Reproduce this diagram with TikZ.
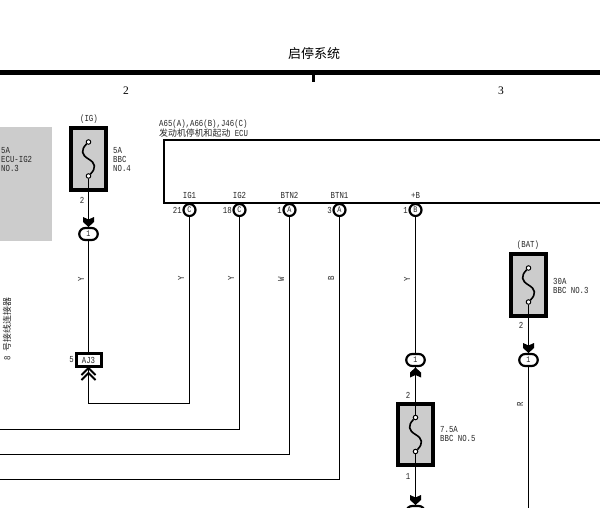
\documentclass[tikz,border=0pt]{standalone}
\usepackage{fontspec}
\setmainfont{Liberation Serif}
\setmonofont[FakeStretch=0.8]{Liberation Mono}
\newfontfamily\cjk{Noto Sans CJK SC}
\begin{document}
\begin{tikzpicture}[
        x=1pt, y=-1pt,
        small/.style={font=\fontsize{9.2}{9}\selectfont\ttfamily, text=black!85, inner sep=0pt, align=left},
        fusebox/.style={draw, line width=4pt, fill=black!20, minimum width=35pt, minimum height=61.5pt, inner sep=0pt},% fuse body
        fusepin/.style={draw, circle, fill=white, line width=1pt, minimum size=4.5pt, inner sep=0pt},
        pinmark/.style={draw, circle, line width=2.2pt, fill=white, minimum size=12pt, inner sep=0pt, font=\fontsize{8.5}{8}\selectfont\ttfamily, text=black!85},% ECU pin
        plug/.style={draw, rectangle, rounded corners=6pt, line width=2.2pt, fill=white, minimum width=18.5pt, minimum height=12pt, inner sep=0pt, font=\fontsize{8.5}{8}\selectfont\ttfamily, text=black!85},% inline connector
        joint/.style={draw, rectangle, line width=3pt, fill=white, minimum width=25pt, minimum height=13pt, inner sep=0pt, small},
        wire/.style={line width=1pt},
        wirecolor/.style={small, rotate=90},
        plugtip/.pic={\fill (-5.5,-10) -- (0,-7.5) -- (5.5,-10) -- (5.5,-5) -- (0,0) -- (-5.5,-5) -- cycle;},% solid tip
    ]
    \useasboundingbox (0,0) rectangle (600,508);
    \clip (0,0) rectangle (600,508);

    % header
    \node (title) at (314,54) {\fontsize{13}{13}\selectfont\cjk 启停系统};
    \fill (0,70) rectangle (600,75);
    \fill (311.5,75) rectangle (314.5,82);
    \node (gridb) at (126,91) {\fontsize{11.5}{11}\selectfont 2};
    \node (gridc) at (501,91) {\fontsize{11.5}{11}\selectfont 3};

    % grey block and side label
    \fill[black!20] (0,127) rectangle (52,241);
    \node[small, anchor=west] (grayFuse) at (1,159.5) {5A\\ECU-IG2\\NO.3};
    \node[small, rotate=90] (sideLabel) at (7,329) {8 {\fontsize{8.9}{9}\selectfont\cjk 号接线连接器}};

    % ECU
    \draw[line width=1.9pt] (610,140) -- (164,140) -- (164,203) -- (610,203);
    \node[small, anchor=south west] (ecuLabel) at (159,137.5) {A65(A),A66(B),J46(C)\\{\fontsize{8.9}{9}\selectfont\cjk 发动机停机和起动} ECU};
    \foreach \name/\x/\pin/\num/\sig in {ig1/189.5/C/21/IG1, ig2/239.5/C/18/IG2, btn2/289.5/A/1/BTN2, btn1/339.5/A/3/BTN1, batt/415.5/B/1/+B} {
        \node[pinmark] (\name) at (\x,210) {\pin};
        \node[small, anchor=east] (\name num) at (\x-7.5,210) {\num};
        \node[small] (\name sig) at (\x,195) {\sig};
    }

    % fuses
    \foreach \name/\x/\y in {fuseIG/88.5/159, fuseB/415.5/434.5, fuseBat/528.5/285} {
        \node[fusebox] (\name) at (\x,\y) {};
        \node[fusepin] (\name top) at (\x,\y-17) {};
        \node[fusepin] (\name bot) at (\x,\y+17) {};
        \draw[line width=1.6pt] (\name top) .. controls (\x-8,\y-9) and (\x-7,\y-4) .. (\x,\y) .. controls (\x+7,\y+4) and (\x+8,\y+9) .. (\name bot);
    }
    \node[small] (igLabel) at (89,119) {(IG)};
    \node[small] (batLabel) at (528,245) {(BAT)};
    \node[small, anchor=west] (fuseIGtext) at (113,160) {5A\\BBC\\NO.4};
    \node[small, anchor=west] (fuseBtext) at (440,434.5) {7.5A\\BBC NO.5};
    \node[small, anchor=west] (fuseBattext) at (553,285.5) {30A\\BBC NO.3};
    \node[small] (igPin) at (82,200) {2};
    \node[small] (bTopPin) at (408,395) {2};
    \node[small] (bBotPin) at (408,476) {1};
    \node[small] (batPin) at (521,325) {2};

    % inline connectors
    \node[plug] (plugIG) at (88.5,234) {1};
    \node[plug] (plugB) at (415.5,360) {1};
    \node[plug] (plugB2) at (415.5,512) {};
    \node[plug] (plugBat) at (528.5,360) {1};
    \node[joint] (jointAJ) at (88.5,360) {AJ3};
    \node[small, anchor=east] (jointNum) at (74,360) {5};

    % free ends and corners
    \coordinate (cornerL) at (88.5,403.5);
    \coordinate (cornerR) at (189.5,403.5);
    \coordinate (endIGb) at (0,429.5);
    \coordinate (endBtnb) at (0,454.5);
    \coordinate (endBtna) at (0,479.5);
    \coordinate (endBat) at (528.5,510);

    % wires
    \draw[wire] (fuseIGbot) -- (plugIG);
    \draw[wire] (plugIG) -- (jointAJ);
    \draw[wire] (jointAJ) -- (cornerL) -- (cornerR) -- (ig1);
    \draw[wire] (ig2) |- (endIGb);
    \draw[wire] (btn2) |- (endBtnb);
    \draw[wire] (btn1) |- (endBtna);
    \draw[wire] (batt) -- (plugB);
    \draw[wire] (plugB) -- (fuseBtop);
    \draw[wire] (fuseBbot) -- (plugB2);
    \draw[wire] (fuseBatbot) -- (plugBat);
    \draw[wire] (plugBat) -- (endBat);

    % wire colours
    \node[wirecolor] (colA) at (81,279) {Y};
    \node[wirecolor] (colB) at (181,278) {Y};
    \node[wirecolor] (colC) at (231,278) {Y};
    \node[wirecolor] (colD) at (281,279) {W};
    \node[wirecolor] (colE) at (331,278) {B};
    \node[wirecolor] (colF) at (407,279) {Y};
    \node[wirecolor] (colG) at (520,404) {R};

    % tips
    \pic at (88.5,227) {plugtip};
    \pic at (528.5,353) {plugtip};
    \pic at (415.5,505) {plugtip};
    \pic[rotate=180] at (415.5,367.5) {plugtip};
    \foreach \y in {368,373} {
        \draw[line width=2pt] (81.5,\y+7) -- (88.5,\y) -- (95.5,\y+7);
    }
\end{tikzpicture}
\end{document}
